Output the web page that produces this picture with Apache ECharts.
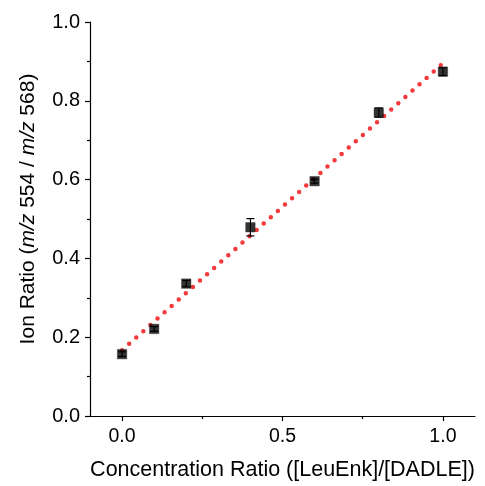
<!DOCTYPE html>
<html><head><meta charset="utf-8">
<script src="https://cdn.jsdelivr.net/npm/echarts@6/dist/echarts.min.js"></script>
<style>html,body{margin:0;padding:0;background:#fff}#c{width:485px;height:486px}</style>
</head><body><div id="c"></div>
<script>
const xValues = [0.0, 0.1, 0.2, 0.4, 0.6, 0.8, 1.0];
const yValues = [0.157, 0.221, 0.336, 0.479, 0.596, 0.770, 0.874];
const yErrors = [0.006, 0.006, 0.008, 0.022, 0.005, 0.012, 0.010];
const fitX = [0.0, 1.0];
const fitY = [0.167, 0.895];
const xTickLabels = [0.0, 0.5, 1.0];
const xMinorTicks = [0.25, 0.75];

const chart = echarts.init(document.getElementById('c'), null, {renderer: 'canvas'});
const font = 'Liberation Sans, Arial, sans-serif';
const pts = xValues.map((x, i) => [x, yValues[i]]);
const errs = xValues.map((x, i) => [x, yValues[i] - yErrors[i], yValues[i] + yErrors[i]]);
const fit = fitX.map((x, i) => [x, fitY[i]]);

chart.setOption({
  animation: false,
  grid: {left: 90, right: 10, top: 22, bottom: 68},
  xAxis: [{
    type: 'value', min: -0.1, max: 1.1,
    name: 'Concentration Ratio ([LeuEnk]/[DADLE])',
    nameLocation: 'middle', nameGap: 43,
    nameTextStyle: {fontFamily: font, fontSize: 21.5, color: '#000'},
    axisLine: {show: true, onZero: false, lineStyle: {color: '#000', width: 1.2}},
    axisTick: {show: true, inside: false, length: 5, customValues: xTickLabels, lineStyle: {color: '#000', width: 1.2}},
    axisLabel: {customValues: xTickLabels, margin: 11, fontFamily: font, fontSize: 19.5, color: '#000',
      formatter: v => v.toFixed(1)},
    splitLine: {show: false}
  }, {
    type: 'value', min: -0.1, max: 1.1, position: 'bottom',
    axisLine: {show: false, onZero: false},
    axisTick: {show: true, inside: false, length: 3, customValues: xMinorTicks, lineStyle: {color: '#000', width: 1.2}},
    axisLabel: {show: false},
    splitLine: {show: false}
  }],
  yAxis: {
    type: 'value', min: 0, max: 1.0, interval: 0.2,
    name: '{n|Ion Ratio (}{i|m/z}{n| 554 / }{i|m/z}{n| 568)}',
    nameLocation: 'middle', nameGap: 51, nameRotate: 90,
    nameTextStyle: {fontFamily: font, fontSize: 21, color: '#000', padding: [0, 0, 0, 20],
      rich: {n: {fontFamily: font, fontSize: 21, color: '#000'},
             i: {fontFamily: font, fontSize: 21, color: '#000', fontStyle: 'italic'}}},
    axisLine: {show: true, onZero: false, lineStyle: {color: '#000', width: 1.2}},
    axisTick: {show: true, inside: false, length: 5, lineStyle: {color: '#000', width: 1.2}},
    minorTick: {show: true, splitNumber: 2, length: 3, lineStyle: {color: '#000', width: 1.2}},
    axisLabel: {margin: 10, fontFamily: font, fontSize: 20, color: '#000', formatter: v => v.toFixed(1)},
    splitLine: {show: false}
  },
  series: [{
    type: 'line', data: fit, symbol: 'none', z: 1,
    lineStyle: {color: '#f5393c', width: 4.5, type: [0, 9.5], cap: 'round'}
  }, {
    type: 'custom', data: errs, z: 2,
    renderItem: (params, api) => {
      const x = api.value(0);
      const lo = api.coord([x, api.value(1)]);
      const hi = api.coord([x, api.value(2)]);
      const w = 4;
      const st = {stroke: '#000', lineWidth: 1.2};
      return {type: 'group', children: [
        {type: 'line', shape: {x1: lo[0], y1: lo[1], x2: hi[0], y2: hi[1]}, style: st},
        {type: 'line', shape: {x1: lo[0]-w, y1: lo[1], x2: lo[0]+w, y2: lo[1]}, style: st},
        {type: 'line', shape: {x1: hi[0]-w, y1: hi[1], x2: hi[0]+w, y2: hi[1]}, style: st}
      ]};
    }
  }, {
    type: 'scatter', data: pts, symbol: 'rect', symbolSize: 9.5, z: 3,
    itemStyle: {color: '#000', borderColor: '#333', borderWidth: 0.5}
  }]
});
</script></body></html>
